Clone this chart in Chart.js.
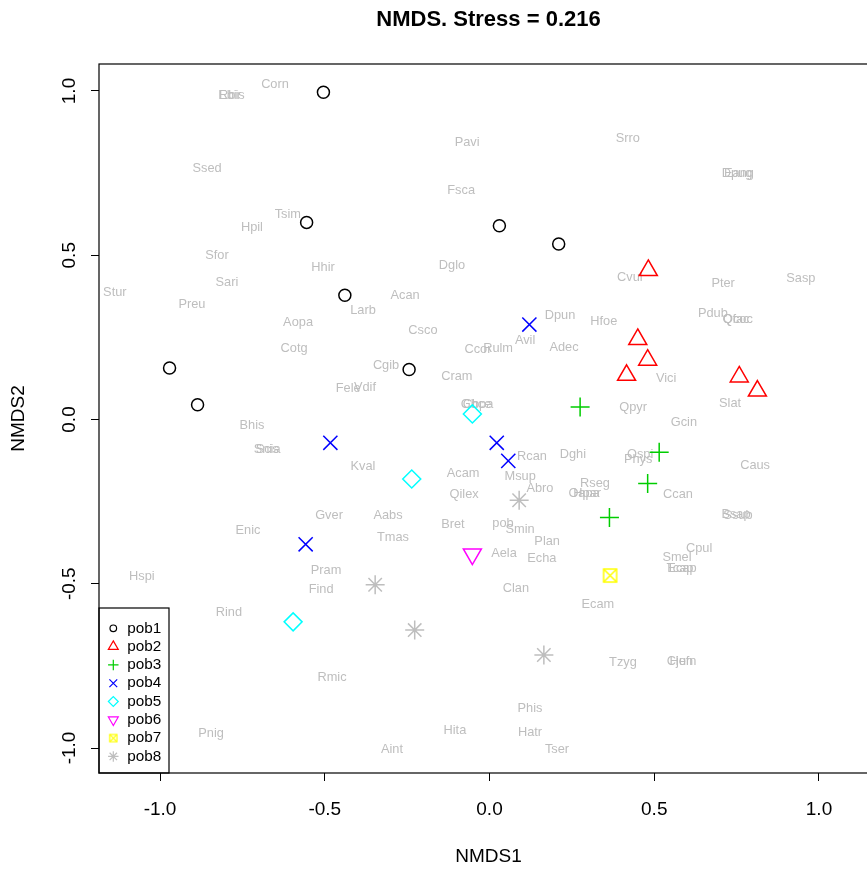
<!DOCTYPE html>
<html lang="en">
<head>
<meta charset="UTF-8">
<title>NMDS</title>
<script src="https://cdn.jsdelivr.net/npm/chart.js"></script>
<style>
  html, body { margin: 0; padding: 0; overflow: hidden; background: #fff; }
  #wrap { width: 880px; height: 870px; }
  #nmds { display: block; }
</style>
</head>
<body>
<div id="wrap"><canvas id="nmds" width="880" height="870"></canvas></div>
<script>
// species scores (grey labels)
const speciesNames = ['Corn','Ebir','Rbis','Ssed','Tsim','Hpil','Sfor','Hhir','Stur','Sari','Preu','Aopa','Cotg','Bhis','Larb','Fele','Vdif','Dglo','Acan','Csco','Dpun','Avil','Ccor','Rulm','Adec','Cgib','Cram','Gbce','Cbpa','Hfoe','Pavi','Fsca','Srro','Dpug','Eang','Cvul','Pter','Sasp','Pdub','Qfac','Qcoc','Vici','Qpyr','Slat','Gcin','Snis','Scia','Gver','Enic','Hspi','Pram','Find','Rind','Kval','Rcan','Dghi','Acam','Msup','Abro','Qilex','Aabs','Bret','pob','Smin','Tmas','Plan','Aela','Echa','Clan','Ecam','Rseg','Oapa','Hpar','Ospi','Phys','Caus','Ccan','Bsap','Ssub','Cpul','Smel','Tcap','Ecap','Rmic','Pnig','Phis','Hita','Hatr','Tser','Aint','Tzyg','Cjun','Hefn'];
const speciesX = [-0.651,-0.789,-0.782,-0.857,-0.612,-0.721,-0.827,-0.505,-1.137,-0.797,-0.903,-0.581,-0.593,-0.721,-0.384,-0.429,-0.378,-0.114,-0.256,-0.202,0.214,0.108,-0.035,0.026,0.226,-0.314,-0.099,-0.041,-0.035,0.347,-0.068,-0.086,0.420,0.751,0.757,0.426,0.709,0.945,0.678,0.748,0.754,0.536,0.436,0.730,0.590,-0.678,-0.672,-0.487,-0.733,-1.055,-0.496,-0.511,-0.791,-0.384,0.129,0.253,-0.080,0.093,0.153,-0.077,-0.308,-0.111,0.041,0.093,-0.293,0.175,0.044,0.159,0.080,0.329,0.320,0.287,0.296,0.457,0.451,0.806,0.572,0.748,0.754,0.636,0.569,0.578,0.584,-0.478,-0.845,0.123,-0.105,0.123,0.205,-0.296,0.405,0.578,0.587];
const speciesY = [1.021,0.985,0.985,0.763,0.625,0.585,0.498,0.464,0.388,0.416,0.349,0.294,0.215,-0.017,0.333,0.093,0.099,0.470,0.379,0.272,0.318,0.242,0.212,0.215,0.218,0.163,0.130,0.047,0.047,0.297,0.842,0.696,0.854,0.750,0.750,0.431,0.413,0.428,0.324,0.306,0.306,0.126,0.038,0.050,-0.008,-0.090,-0.090,-0.291,-0.339,-0.479,-0.461,-0.516,-0.586,-0.142,-0.114,-0.105,-0.163,-0.172,-0.209,-0.227,-0.291,-0.321,-0.315,-0.336,-0.358,-0.370,-0.409,-0.422,-0.513,-0.562,-0.196,-0.224,-0.224,-0.105,-0.123,-0.139,-0.227,-0.288,-0.291,-0.394,-0.419,-0.452,-0.452,-0.784,-0.957,-0.881,-0.948,-0.954,-1.003,-1.003,-0.740,-0.737,-0.737];

// site scores, one list per population
const siteGroups = ['pob1','pob2','pob3','pob4','pob5','pob6','pob7','pob8'];
const siteX = [
  [-0.504,-0.555,0.030,0.210,-0.439,-0.971,-0.886,-0.244],
  [0.482,0.450,0.480,0.416,0.758,0.813],
  [0.275,0.515,0.480,0.364],
  [0.121,-0.483,0.022,0.057,-0.558],
  [-0.052,-0.236,-0.596],
  [-0.052],
  [0.366],
  [0.090,-0.347,-0.227,0.165]
];
const siteY = [
  [0.996,0.600,0.590,0.534,0.378,0.157,0.045,0.152],
  [0.454,0.244,0.181,0.135,0.130,0.087],
  [0.038,-0.100,-0.195,-0.298],
  [0.289,-0.071,-0.071,-0.126,-0.380],
  [0.017,-0.181,-0.616],
  [-0.410],
  [-0.475],
  [-0.246,-0.503,-0.641,-0.717]
];

const FONT = '"Liberation Sans", Arial, Helvetica, sans-serif';
Chart.defaults.font.family = FONT;
Chart.defaults.color = '#000';

// square with a cross inside (R pch 7)
function squareCross(half, color, lw) {
  const s = Math.ceil(2 * half + lw + 2);
  const c = document.createElement('canvas');
  c.width = s; c.height = s;
  const g = c.getContext('2d');
  const o = s / 2;
  g.strokeStyle = color;
  g.lineWidth = lw;
  g.strokeRect(o - half, o - half, 2 * half, 2 * half);
  g.beginPath();
  g.moveTo(o - half, o - half); g.lineTo(o + half, o + half);
  g.moveTo(o + half, o - half); g.lineTo(o - half, o + half);
  g.stroke();
  return c;
}

const groupColors = ['#000000','#FF0000','#00CD00','#0000FF','#00FFFF','#FF00FF','#FFFF00','#BEBEBE'];
const groupShapes = ['circle','triangle','cross','crossRot','rectRot','triangle', squareCross(6.5, '#FFFF00', 1.5),'star'];
const legendShapes = ['circle','triangle','cross','crossRot','rectRot','triangle', squareCross(3.6, '#FFFF00', 1.2),'star'];
const groupRotation = [0,0,0,0,0,180,0,0];
const groupRadius = [6,10.4,9.5,10,9,10.4,6.5,9.5];

const speciesLabels = {
  id: 'speciesLabels',
  beforeDatasetsDraw(chart) {
    const {ctx, scales: {x, y}} = chart;
    ctx.save();
    ctx.font = '12.8px ' + FONT;
    ctx.fillStyle = '#BEBEBE';
    ctx.textAlign = 'center';
    ctx.textBaseline = 'middle';
    speciesNames.forEach((n, i) => {
      ctx.fillText(n, x.getPixelForValue(speciesX[i]), y.getPixelForValue(speciesY[i]));
    });
    ctx.restore();
  }
};

const plotBox = {
  id: 'plotBox',
  afterDraw(chart) {
    const {ctx, chartArea: a} = chart;
    ctx.save();
    ctx.strokeStyle = '#000';
    ctx.lineWidth = 1.2;
    ctx.strokeRect(a.left, a.top, a.right - a.left, a.bottom - a.top);
    ctx.restore();
  }
};

const legendBox = {
  id: 'legendBox',
  afterDatasetsDraw(chart) {
    const {ctx, chartArea: a} = chart;
    const left = a.left, top = a.bottom - 165, w = 70, rowH = 18.3;
    ctx.save();
    ctx.fillStyle = '#fff';
    ctx.fillRect(left, top, w, a.bottom - top);
    ctx.strokeStyle = '#000';
    ctx.lineWidth = 1.2;
    ctx.strokeRect(left, top, w, a.bottom - top);
    chart.data.datasets.forEach((ds, i) => {
      const yy = top + 20.3 + i * rowH;
      ctx.strokeStyle = ds.pointBorderColor;
      ctx.fillStyle = 'rgba(0,0,0,0)';
      ctx.lineWidth = 1.2;
      Chart.helpers.drawPoint(ctx, {
        pointStyle: legendShapes[i],
        radius: ds.pointRadius * 0.55,
        rotation: ds.pointRotation,
        borderWidth: 1.2
      }, left + 14.3, yy);
      ctx.fillStyle = '#000';
      ctx.font = '15.3px ' + FONT;
      ctx.textAlign = 'left';
      ctx.textBaseline = 'middle';
      ctx.fillText(ds.label, left + 28.3, yy);
    });
    ctx.restore();
  }
};

const fmt = v => Number(v).toFixed(1);

new Chart(document.getElementById('nmds'), {
  type: 'scatter',
  data: {
    datasets: siteGroups.map((g, i) => ({
      label: g,
      data: siteX[i].map((x, j) => ({x: x, y: siteY[i][j]})),
      pointStyle: groupShapes[i],
      pointRadius: groupRadius[i],
      pointRotation: groupRotation[i],
      pointBorderColor: groupColors[i],
      pointBackgroundColor: 'rgba(0,0,0,0)',
      pointBorderWidth: 1.5,
      showLine: false
    }))
  },
  options: {
    responsive: false,
    animation: false,
    events: [],
    // the plot region runs slightly past the visible 867px width
    layout: { autoPadding: false, padding: { right: 2 } },
    plugins: {
      legend: { display: false },
      tooltip: { enabled: false },
      title: {
        display: true,
        fullSize: false,
        text: 'NMDS. Stress = 0.216',
        font: { size: 22, weight: 'bold' },
        color: '#000',
        padding: { top: 7, bottom: 30.6 }
      }
    },
    scales: {
      x: {
        type: 'linear',
        min: -1.18513,
        max: 1.17906,
        ticks: { stepSize: 0.5, includeBounds: false, font: { size: 19 }, color: '#000', padding: 17.6, callback: fmt },
        grid: { drawOnChartArea: false, color: '#000', tickLength: 8 },
        border: { display: false },
        title: { display: true, text: 'NMDS1', font: { size: 19 }, color: '#000', padding: { top: 0, bottom: 1.6 } },
        afterFit: s => { s.height = 97; }
      },
      y: {
        type: 'linear',
        min: -1.07610,
        max: 1.08219,
        ticks: { stepSize: 0.5, includeBounds: false, font: { size: 19 }, color: '#000', minRotation: 90, maxRotation: 90, crossAlign: 'center', padding: 4.6, callback: fmt },
        grid: { drawOnChartArea: false, color: '#000', tickLength: 8 },
        border: { display: false },
        title: { display: true, text: 'NMDS2', font: { size: 19 }, color: '#000', padding: { top: 7.6, bottom: 0 } },
        afterFit: s => { s.width = 99; }
      }
    }
  },
  plugins: [speciesLabels, legendBox, plotBox]
});
</script>
</body>
</html>
